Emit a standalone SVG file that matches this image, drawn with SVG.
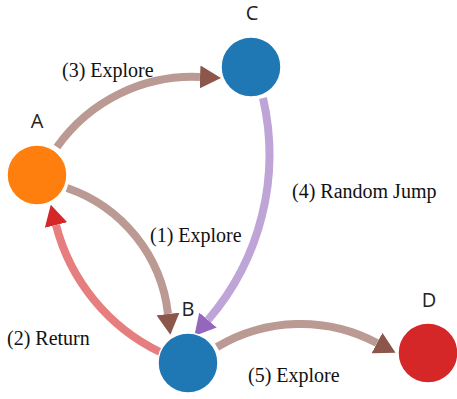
<svg xmlns="http://www.w3.org/2000/svg" width="457" height="399" viewBox="0 0 457 399">
  <style>
    .edge { fill: none; stroke-width: 8; }
    .brown { stroke: #ba9a93; }
    .red { stroke: #e67d7e; }
    .purple { stroke: #bfa4d7; }
    .node { stroke: #ffffff; stroke-width: 1.5; }
    .nlabel { font-family: "Open Sans", "DejaVu Sans", sans-serif; font-size: 20px; fill: #222; text-anchor: middle; }
    .elabel { font-family: "Liberation Serif", "Times New Roman", serif; font-size: 20px; fill: #111; }
  </style>
  <defs>
    <marker id="arrow-brown" viewBox="0 0 21 23" refX="0" refY="11.5" markerWidth="21" markerHeight="23" markerUnits="userSpaceOnUse" orient="auto">
      <path d="M0,0 L21,11.5 L0,23 z" fill="#8c564b"/>
    </marker>
    <marker id="arrow-red" viewBox="0 0 21 23" refX="0" refY="11.5" markerWidth="21" markerHeight="23" markerUnits="userSpaceOnUse" orient="auto">
      <path d="M0,0 L21,11.5 L0,23 z" fill="#d62728"/>
    </marker>
    <marker id="arrow-purple" viewBox="0 0 21 23" refX="0" refY="11.5" markerWidth="21" markerHeight="23" markerUnits="userSpaceOnUse" orient="auto">
      <path d="M0,0 L21,11.5 L0,23 z" fill="#9467bd"/>
    </marker>
  </defs>
  <g id="connectors">
    <path id="edge-A-C" class="edge brown" d="M57,147 A166,166 0 0,1 200,77" marker-end="url(#arrow-brown)"/>
    <path id="edge-A-B" class="edge brown" d="M67,188 A151,151 0 0,1 168,314" marker-end="url(#arrow-brown)"/>
    <path id="edge-B-A" class="edge red" d="M160,352 A195,195 0 0,1 56,225" marker-end="url(#arrow-red)"/>
    <path id="edge-C-B" class="edge purple" d="M263,98 A253,253 0 0,1 208,320" marker-end="url(#arrow-purple)"/>
    <path id="edge-B-D" class="edge brown" d="M217,347 A163,163 0 0,1 377,343" marker-end="url(#arrow-brown)"/>
    <text class="elabel" x="62" y="77">(3) Explore</text>
    <text class="elabel" x="150" y="242">(1) Explore</text>
    <text class="elabel" x="7" y="345">(2) Return</text>
    <text class="elabel" x="292" y="198">(4) Random Jump</text>
    <text class="elabel" x="248" y="382">(5) Explore</text>
  </g>
  <g id="node-A">
    <circle class="node" cx="37" cy="175" r="30" fill="#ff7f0e"/>
    <text class="nlabel" x="37" y="128">A</text>
  </g>
  <g id="node-B">
    <circle class="node" cx="188" cy="363" r="30" fill="#1f77b4"/>
    <text class="nlabel" x="188" y="316">B</text>
  </g>
  <g id="node-C">
    <circle class="node" cx="251" cy="67" r="30" fill="#1f77b4"/>
    <text class="nlabel" x="252" y="20">C</text>
  </g>
  <g id="node-D">
    <circle class="node" cx="428" cy="353" r="30" fill="#d62728"/>
    <text class="nlabel" x="429" y="307">D</text>
  </g>
</svg>
